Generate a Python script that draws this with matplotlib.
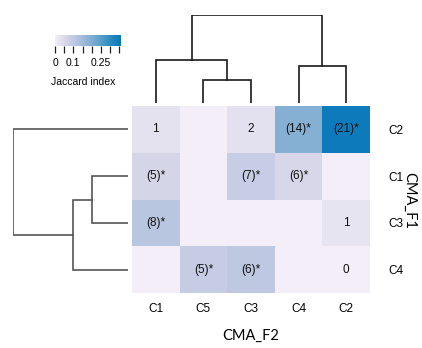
import numpy as np
import matplotlib
matplotlib.use('Agg')
import matplotlib.pyplot as plt
from matplotlib.colors import LinearSegmentedColormap

plt.rcParams['font.family'] = ['Liberation Sans', 'DejaVu Sans']

# columns (CMA_F2) and rows (CMA_F1), in dendrogram order
cols = ['C1', 'C5', 'C3', 'C4', 'C2']
rows = ['C2', 'C1', 'C3', 'C4']

# Jaccard index per cell
jaccard = [
    [0.03, 0.0, 0.035, 0.19, 0.35],
    [0.062, 0.0, 0.088, 0.058, 0.0],
    [0.112, 0.0, 0.0, 0.0, 0.025],
    [0.0, 0.09, 0.103, 0.0, 0.0],
]
# overlap counts shown in the cells
cell_text = [
    ['1', '', '2', '(14)*', '(21)*'],
    ['(5)*', '', '(7)*', '(6)*', ''],
    ['(8)*', '', '', '', '1'],
    ['', '(5)*', '(6)*', '', '0'],
]

# dendrogram merges: (left, right, height); new nodes numbered after the leaves
col_merges = [(1, 2, 0.23), (3, 4, 0.37), (0, 5, 0.43), (7, 6, 0.88)]
row_merges = [(1, 2, 0.36), (4, 3, 0.55), (0, 5, 1.15)]

cbar_ticks = [0, 0.05, 0.1, 0.15, 0.2, 0.25, 0.3, 0.35]
cbar_labels = ['0', '', '0.1', '', '', '0.25', '', '']

cmap = LinearSegmentedColormap.from_list(
    'jac', ['#f3eef7', '#d0d1e6', '#a6bddb', '#74a9cf', '#3690c0', '#0677ba'])
vmax = 0.36


def dendro(ax, n, merges, orient, color):
    pos = {i: i + 0.5 for i in range(n)}
    hgt = {i: 0.0 for i in range(n)}
    node = n
    for a, b, h in merges:
        xs = [pos[a], pos[a], pos[b], pos[b]]
        ys = [hgt[a], h, h, hgt[b]]
        if orient == 'top':
            ax.plot(xs, ys, color=color, lw=1.2, solid_joinstyle='miter')
        else:
            ax.plot(ys, xs, color=color, lw=1.2, solid_joinstyle='miter')
        pos[node] = (pos[a] + pos[b]) / 2
        hgt[node] = h
        node += 1


fig = plt.figure(figsize=(4.22, 3.48), dpi=100)
W, H = 422, 348

# heatmap
ax = fig.add_axes([132 / W, 1 - 293 / H, 238 / W, 187 / H])
ax.pcolormesh(np.array(jaccard), cmap=cmap, vmin=0, vmax=vmax)
ax.set_xlim(0, 5)
ax.set_ylim(4, 0)
for i in range(len(rows)):
    for j in range(len(cols)):
        ax.text(j + 0.5, i + 0.5, cell_text[i][j], ha='center', va='center',
                fontsize=8.5, color='#111111')
ax.set_xticks(np.arange(len(cols)) + 0.5)
ax.set_xticklabels(cols, fontsize=8.5)
ax.set_yticks(np.arange(len(rows)) + 0.5)
ax.set_yticklabels(rows, fontsize=8.5)
ax.yaxis.tick_right()
ax.tick_params(length=0, pad=7)
ax.tick_params(axis='y', pad=13)
for s in ax.spines.values():
    s.set_visible(False)
ax.set_xlabel('CMA_F2', fontsize=10.5, family='Lato', labelpad=10)
fig.text(409 / W, 1 - 200 / H, 'CMA_F1', rotation=-90, ha='center', va='center',
         fontsize=10.5, family='Lato')

# top dendrogram
axt = fig.add_axes([132 / W, 1 - 103 / H, 238 / W, 88 / H])
dendro(axt, len(cols), col_merges, 'top', '#1a1a1a')
axt.set_xlim(0, 5)
axt.set_ylim(0, 0.88)
axt.axis('off')

# left dendrogram
axl = fig.add_axes([13 / W, 1 - 293 / H, 115 / W, 187 / H])
dendro(axl, len(rows), row_merges, 'left', '#555555')
axl.set_ylim(4, 0)
axl.set_xlim(1.15, 0)
axl.axis('off')

# colour key
cax = fig.add_axes([55 / W, 1 - 46 / H, 66 / W, 11 / H])
sm = plt.cm.ScalarMappable(cmap=cmap, norm=plt.Normalize(0, vmax))
cb = fig.colorbar(sm, cax=cax, orientation='horizontal')
cb.outline.set_visible(False)
cb.set_ticks(cbar_ticks)
cb.set_ticklabels(cbar_labels)
cax.tick_params(length=5, width=0.9, labelsize=7.5, pad=4, color='#222222')
fig.text(83 / W, 1 - 82 / H, 'Jaccard index', ha='center', va='center', fontsize=7.5)

fig.savefig('out.png', dpi=100)
